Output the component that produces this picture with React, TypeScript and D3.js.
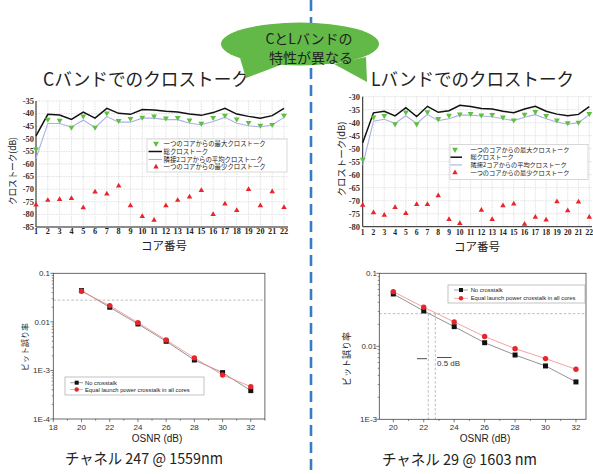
import React from "react";
import * as d3 from "d3";

// ---- crosstalk per core ----
const cores = [1, 2, 3, 4, 5, 6, 7, 8, 9, 10, 11, 12, 13, 14, 15, 16, 17, 18, 19, 20, 21, 22];

const cBandTotal = [-48.8, -40.3, -40.6, -42.3, -39.4, -41.8, -37.9, -39.9, -40.3, -38.4, -38.6, -39.1, -39.4, -40.2, -40.7, -39.6, -37.9, -40.2, -41.1, -41.8, -40.8, -37.9];
const cBandMax = [-54.1, -42.3, -42.7, -45.5, -41.0, -45.5, -39.8, -42.8, -42.0, -41.5, -41.0, -41.8, -41.6, -42.6, -43.9, -41.6, -40.7, -42.2, -43.6, -44.7, -44.4, -40.7];
const cBandAvg = [-57.8, -43.9, -43.9, -45.3, -42.6, -45.5, -41.2, -43.4, -43.4, -41.8, -41.8, -42.4, -42.4, -43.8, -44.4, -43.1, -41.5, -43.8, -44.8, -45.3, -44.5, -41.5];
const cBandMin = [-76.2, -74.4, -74.1, -73.7, -77.3, -71.1, -71.9, -68.7, -76.5, -80.8, -82.3, -76.5, -74.4, -73.1, -70.5, -80.0, -75.8, -78.4, -70.1, -76.5, -71.0, -77.2];

const lBandTotal = [-47.7, -36.2, -35.6, -37.4, -34.2, -37.6, -33.7, -36.0, -35.4, -33.3, -33.8, -34.5, -34.7, -35.6, -36.2, -34.7, -33.7, -35.6, -36.7, -37.3, -36.8, -33.8];
const lBandMax = [-54.1, -37.9, -37.3, -40.5, -36.0, -40.5, -35.9, -38.5, -37.2, -36.7, -36.5, -37.1, -36.9, -37.9, -39.0, -36.8, -35.8, -37.3, -39.0, -40.1, -39.9, -36.5];
const lBandAvg = [-56.3, -39.4, -38.7, -40.3, -37.3, -40.3, -36.8, -39.2, -38.5, -37.1, -37.1, -37.4, -37.7, -38.5, -39.2, -37.9, -36.9, -38.5, -39.7, -40.6, -40.0, -36.9];
const lBandMin: (number | null)[] = [-71.7, -74.6, -75.6, -72.6, -74.9, -71.4, -71.4, -68.1, -77.2, -78.7, null, -73.6, -77.2, -71.9, -71.2, -79.0, -76.3, -77.4, -70.4, -73.8, -70.5, -76.3];

const xtLegendLabels = [
  "一つのコアからの最大クロストーク",
  "総クロストーク",
  "隣接2コアからの平均クロストーク",
  "一つのコアからの最少クロストーク",
];

// ---- bit error rate vs OSNR ----
const osnr = [20, 22, 24, 26, 28, 30, 32];
const berCNoXt = [0.044, 0.02, 0.00906, 0.00398, 0.00164, 0.000901, 0.000384];
const berCXt = [0.0426, 0.0216, 0.00964, 0.00424, 0.00181, 0.000807, 0.000464];
const berLNoXt = [0.0521, 0.0305, 0.0186, 0.0112, 0.0076, 0.00538, 0.00325];
const berLXt = [0.0561, 0.0342, 0.0216, 0.0136, 0.00929, 0.00678, 0.00484];
const berThreshold = 0.028;
const lPenaltyOsnr = [22.3, 22.76];
const berLegendLabels = ["No crosstalk", "Equal launch power crosstalk in all cores"];
const berTickValues = [0.1, 0.01, 0.001, 0.0001];
const berTickText = ["0.1", "0.01", "1E-3", "1E-4"];

const JP = "'Noto Sans CJK JP', 'Noto Sans', sans-serif";
const SERIF = "'Liberation Serif', 'DejaVu Serif', serif";
const SANS = "'Liberation Sans', Arial, sans-serif";

const GREEN = "#5fbf3f";
const RED = "#e8242c";
const AVG = "#aab0e6";

type XtProps = {
  xRange: [number, number];
  plotRight: number;
  yDomain: [number, number];
  yRange: [number, number];
  total: number[];
  max: number[];
  avg: number[];
  min: (number | null)[];
  yLabelX: number;
  xLabelY: number;
  xLabelSize: number;
  axisTitle: { x: number; y: number };
  yTitle: { x: number; y: number; len: number };
  legend: { x: number; y: number; w: number; h: number; rows: number[]; mx: number; tx: number; lx0: number; lx1: number; size: number };
};

function XtalkPanel(p: XtProps) {
  const x = d3.scaleLinear().domain([1, 22]).range(p.xRange);
  const y = d3.scaleLinear().domain(p.yDomain).range(p.yRange);
  const line = d3
    .line<number>()
    .x((_, i) => x(cores[i]))
    .y((d) => y(d));
  const yTicks = d3.range(p.yDomain[0], p.yDomain[1] + 0.01, 5);
  const triDown = d3.symbol(d3.symbolTriangle, 15)()!;
  const triUp = d3.symbol(d3.symbolTriangle, 13)()!;
  const top = p.yRange[1];
  const bottom = p.yRange[0];
  const left = p.xRange[0];
  const L = p.legend;
  return (
    <g>
      <rect x={left} y={top} width={p.plotRight - left} height={bottom - top} fill="#fff" />
      {cores.map((c) => (
        <line key={"vg" + c} x1={x(c)} x2={x(c)} y1={top} y2={bottom} stroke="#d6d6d6" strokeWidth={0.7} strokeDasharray="1.5,1" />
      ))}
      {yTicks.map((t) => (
        <line key={"hg" + t} x1={left} x2={p.plotRight} y1={y(t)} y2={y(t)} stroke="#d6d6d6" strokeWidth={0.7} strokeDasharray="1.5,1" />
      ))}
      <line x1={left} x2={left} y1={top} y2={bottom} stroke="#222" strokeWidth={1} />
      <line x1={left} x2={p.plotRight} y1={bottom} y2={bottom} stroke="#222" strokeWidth={1} />
      {yTicks.map((t) => (
        <text key={"yt" + t} x={p.yLabelX} y={y(t)} dy="0.33em" textAnchor="end" fontFamily={SERIF} fontWeight="bold" fontSize={8.5} fill="#333">
          {t}
        </text>
      ))}
      {cores.map((c) => (
        <text key={"xt" + c} x={x(c)} y={p.xLabelY} textAnchor="middle" fontFamily={SERIF} fontWeight="bold" fontSize={p.xLabelSize} fill="#222">
          {c}
        </text>
      ))}
      <path d={line(p.avg)!} fill="none" stroke={AVG} strokeWidth={1.1} />
      <path d={line(p.total)!} fill="none" stroke="#111" strokeWidth={1.5} />
      {p.max.map((v, i) => (
        <path key={"mx" + i} d={triDown} transform={`translate(${x(cores[i])},${y(v)}) rotate(180)`} fill={GREEN} />
      ))}
      {p.min.map((v, i) =>
        v == null ? null : <path key={"mn" + i} d={triUp} transform={`translate(${x(cores[i])},${y(v)})`} fill={RED} />
      )}
      <text x={p.axisTitle.x} y={p.axisTitle.y} textAnchor="middle" fontFamily={JP} fontSize={11.5} fill="#222">
        コア番号
      </text>
      <text
        transform={`translate(${p.yTitle.x},${p.yTitle.y}) rotate(-90)`}
        textAnchor="middle"
        dy="0.35em"
        fontFamily={JP}
        fontSize={9.5}
        fill="#222"
        textLength={p.yTitle.len}
        lengthAdjust="spacingAndGlyphs"
      >
        クロストーク(dB)
      </text>
      {/* legend */}
      <rect x={L.x} y={L.y} width={L.w} height={L.h} fill="#fff" stroke="#c8c8c8" strokeWidth={0.7} />
      <path d={triDown} transform={`translate(${L.mx},${L.rows[0]}) rotate(180)`} fill={GREEN} />
      <line x1={L.lx0} x2={L.lx1} y1={L.rows[1]} y2={L.rows[1]} stroke="#111" strokeWidth={1.5} />
      <line x1={L.lx0} x2={L.lx1} y1={L.rows[2]} y2={L.rows[2]} stroke={AVG} strokeWidth={1.1} />
      <path d={triUp} transform={`translate(${L.mx},${L.rows[3]})`} fill={RED} />
      {xtLegendLabels.map((s, i) => (
        <text key={"lg" + i} x={L.tx} y={L.rows[i]} dy="0.36em" fontFamily={JP} fontSize={L.size} fill="#222">
          {s}
        </text>
      ))}
    </g>
  );
}

type BerProps = {
  xDomain: [number, number];
  xRange: [number, number];
  yDomain: [number, number];
  yRange: [number, number];
  xTicks: number[];
  noXt: number[];
  xt: number[];
  yLabelX: number;
  xLabelY: number;
  xTitle: { x: number; y: number };
  yTitle: { x: number; y: number; size: number };
  legend: { x: number; y: number; w: number; h: number; rows: number[]; mx: number; lx0: number; lx1: number; tx: number };
  penalty?: number[];
};

function BerPanel(p: BerProps) {
  const x = d3.scaleLinear().domain(p.xDomain).range(p.xRange);
  const y = d3.scaleLog().domain(p.yDomain).range(p.yRange);
  const line = d3
    .line<number>()
    .x((_, i) => x(osnr[i]))
    .y((d) => y(d));
  const [l, r] = p.xRange;
  const [b, t] = p.yRange;
  const decades = berTickValues.filter((v) => v >= p.yDomain[0] * 0.999 && v <= p.yDomain[1] * 1.001);
  const minor: number[] = [];
  decades.forEach((dv) => {
    if (dv < p.yDomain[1] * 0.999) for (let k = 2; k <= 9; k++) minor.push(dv * k);
  });
  const xMinor = d3.range(Math.ceil(p.xDomain[0]), p.xDomain[1] + 0.001, 1);
  const L = p.legend;
  const thrY = y(berThreshold);
  return (
    <g>
      <line x1={l} x2={r} y1={thrY} y2={thrY} stroke="#aaa" strokeWidth={0.8} strokeDasharray="2.5,2" />
      {p.penalty &&
        p.penalty.map((v, i) => (
          <line key={"pv" + i} x1={x(v)} x2={x(v)} y1={thrY} y2={b} stroke="#aaa" strokeWidth={0.8} strokeDasharray="2.5,2" />
        ))}
      <rect x={l} y={t} width={r - l} height={b - t} fill="none" stroke="#444" strokeWidth={0.8} />
      {xMinor.map((v) => (
        <line key={"xm" + v} x1={x(v)} x2={x(v)} y1={b} y2={b + (p.xTicks.includes(v) ? 3 : 1.6)} stroke="#444" strokeWidth={0.7} />
      ))}
      {p.xTicks.map((v) => (
        <text key={"xl" + v} x={x(v)} y={p.xLabelY} textAnchor="middle" fontFamily={SANS} fontSize={8} fill="#333">
          {v}
        </text>
      ))}
      {decades.map((v) => (
        <line key={"yd" + v} x1={l - 3} x2={l} y1={y(v)} y2={y(v)} stroke="#444" strokeWidth={0.7} />
      ))}
      {minor.map((v) => (
        <line key={"ym" + v} x1={l - 1.6} x2={l} y1={y(v)} y2={y(v)} stroke="#444" strokeWidth={0.6} />
      ))}
      {decades.map((v) => (
        <text key={"yl" + v} x={p.yLabelX} y={y(v)} dy="0.35em" textAnchor="end" fontFamily={SANS} fontSize={8} fill="#333">
          {berTickText[berTickValues.indexOf(v)]}
        </text>
      ))}
      <path d={line(p.noXt)!} fill="none" stroke="#777" strokeWidth={0.8} />
      <path d={line(p.xt)!} fill="none" stroke="#f08a8a" strokeWidth={0.8} />
      {p.noXt.map((v, i) => (
        <rect key={"sq" + i} x={x(osnr[i]) - 2.5} y={y(v) - 2.5} width={5} height={5} fill="#111" />
      ))}
      {p.xt.map((v, i) => (
        <circle key={"ci" + i} cx={x(osnr[i])} cy={y(v)} r={2.7} fill={RED} />
      ))}
      <text x={p.xTitle.x} y={p.xTitle.y} textAnchor="middle" fontFamily={SANS} fontSize={10} fill="#222">
        OSNR (dB)
      </text>
      <text
        transform={`translate(${p.yTitle.x},${p.yTitle.y}) rotate(-90)`}
        textAnchor="middle"
        dy="0.35em"
        fontFamily={JP}
        fontSize={p.yTitle.size}
        fill="#222"
      >
        ビット誤り率
      </text>
      {/* legend */}
      <rect x={L.x} y={L.y} width={L.w} height={L.h} fill="#fff" stroke="#999" strokeWidth={0.6} />
      <line x1={L.lx0} x2={L.lx1} y1={L.rows[0]} y2={L.rows[0]} stroke="#777" strokeWidth={0.7} />
      <rect x={L.mx - 2} y={L.rows[0] - 2} width={4} height={4} fill="#111" />
      <line x1={L.lx0} x2={L.lx1} y1={L.rows[1]} y2={L.rows[1]} stroke="#f08a8a" strokeWidth={0.7} />
      <circle cx={L.mx} cy={L.rows[1]} r={2.2} fill={RED} />
      {berLegendLabels.map((s, i) => (
        <text key={"bl" + i} x={L.tx} y={L.rows[i]} dy="0.35em" fontFamily={SANS} fontSize={5.8} fill="#222">
          {s}
        </text>
      ))}
    </g>
  );
}

function Bubble() {
  const fill = "#62b947";
  return (
    <g>
      <polygon points="240,58 283,64 246,78" fill={fill} />
      <polygon points="334,64 366,57 367,82" fill={fill} />
      <ellipse cx={300} cy={44} rx={79} ry={21.5} fill={fill} />
      <text x={309} y={44} textAnchor="middle" fontFamily={JP} fontSize={14} fill="#222">
        CとLバンドの
      </text>
      <text x={311} y={62.5} textAnchor="middle" fontFamily={JP} fontSize={14} fill="#222">
        特性が異なる
      </text>
    </g>
  );
}

export default function App() {
  return (
    <svg width={593} height={474} viewBox="0 0 593 474" style={{ position: "absolute", left: 0, top: 0, background: "#fff" }}>
      <rect width={593} height={474} fill="#fff" />
      <line x1={311} x2={311} y1={0} y2={474} stroke="#3a7cc4" strokeWidth={2.6} strokeDasharray="11,6" />

      <text x={43} y={86} fontFamily={JP} fontSize={18} fill="#222" textLength={206} lengthAdjust="spacingAndGlyphs">
        Cバンドでのクロストーク
      </text>
      <text x={371} y={86} fontFamily={JP} fontSize={18} fill="#222" textLength={203} lengthAdjust="spacingAndGlyphs">
        Lバンドでのクロストーク
      </text>

      <XtalkPanel
        xRange={[36, 284]}
        plotRight={288}
        yDomain={[-85, -35]}
        yRange={[227, 101]}
        total={cBandTotal}
        max={cBandMax}
        avg={cBandAvg}
        min={cBandMin}
        yLabelX={34}
        xLabelY={233.5}
        xLabelSize={8.2}
        axisTitle={{ x: 164, y: 249.5 }}
        yTitle={{ x: 13, y: 171, len: 68 }}
        legend={{ x: 147, y: 139, w: 140, h: 33, rows: [143.5, 151.5, 159.5, 167], mx: 156, tx: 163.5, lx0: 148.5, lx1: 162, size: 6.4 }}
      />
      <XtalkPanel
        xRange={[362.7, 589.3]}
        plotRight={592}
        yDomain={[-80, -30]}
        yRange={[226.7, 96.7]}
        total={lBandTotal}
        max={lBandMax}
        avg={lBandAvg}
        min={lBandMin}
        yLabelX={360}
        xLabelY={234.5}
        xLabelSize={7.6}
        axisTitle={{ x: 477, y: 251 }}
        yTitle={{ x: 342, y: 159, len: 75 }}
        legend={{ x: 450, y: 144.5, w: 138, h: 35, rows: [149.5, 157.2, 164.9, 172.6], mx: 455, tx: 470.5, lx0: 450.5, lx1: 462, size: 6.2 }}
      />

      <BerPanel
        xDomain={[18, 33]}
        xRange={[53.3, 264.9]}
        yDomain={[0.0001, 0.1]}
        yRange={[419, 273.3]}
        xTicks={[18, 20, 22, 24, 26, 28, 30, 32]}
        noXt={berCNoXt}
        xt={berCXt}
        yLabelX={50}
        xLabelY={429.5}
        xTitle={{ x: 157, y: 442 }}
        yTitle={{ x: 25, y: 347, size: 8 }}
        legend={{ x: 65, y: 377, w: 139, h: 18, rows: [382.7, 389.5], mx: 76.7, lx0: 70, lx1: 83, tx: 85 }}
      />
      <BerPanel
        xDomain={[19.08, 32.66]}
        xRange={[379.3, 586]}
        yDomain={[0.001, 0.1]}
        yRange={[419.3, 273.3]}
        xTicks={[20, 22, 24, 26, 28, 30, 32]}
        noXt={berLNoXt}
        xt={berLXt}
        yLabelX={377}
        xLabelY={429.5}
        xTitle={{ x: 485, y: 442 }}
        yTitle={{ x: 347, y: 359, size: 9 }}
        legend={{ x: 448, y: 285, w: 137, h: 18, rows: [290, 298.3], mx: 461, lx0: 454, lx1: 468, tx: 470.7 }}
        penalty={lPenaltyOsnr}
      />
      {/* OSNR penalty annotation */}
      <line x1={417} x2={427} y1={358.7} y2={358.7} stroke="#222" strokeWidth={0.8} />
      <line x1={437} x2={451.5} y1={357.5} y2={357.5} stroke="#222" strokeWidth={0.8} />
      <text x={437} y={366} fontFamily={SANS} fontSize={8} fill="#333">
        0.5 dB
      </text>

      <text x={65} y={464} fontFamily={JP} fontSize={15} fill="#222" textLength={158} lengthAdjust="spacingAndGlyphs">
        チャネル 247 @ 1559nm
      </text>
      <text x={382} y={465} fontFamily={JP} fontSize={15} fill="#222" textLength={155} lengthAdjust="spacingAndGlyphs">
        チャネル 29 @ 1603 nm
      </text>

      <Bubble />
    </svg>
  );
}
